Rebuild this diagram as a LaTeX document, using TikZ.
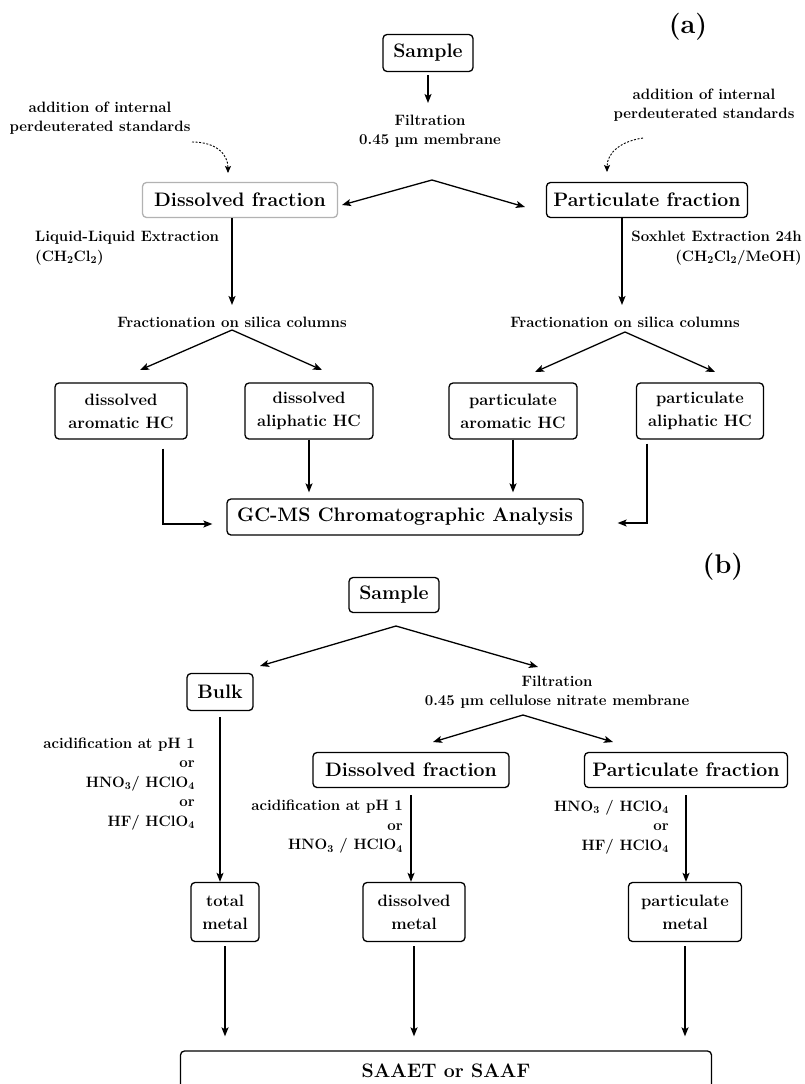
\documentclass[tikz,border=0pt]{standalone}
\usepackage{tikz}
\usetikzlibrary{arrows.meta}

\newcommand{\fbig}{\fontsize{19.5}{23}\selectfont\bfseries}
\newcommand{\fmid}{\fontsize{16.5}{23}\selectfont\bfseries}
\newcommand{\fsmall}{\fontsize{15}{19.5}\selectfont\bfseries}
\newcommand{\flabel}{\fontsize{27}{30}\selectfont\bfseries}

\begin{document}
\begin{tikzpicture}[x=1pt, y=-1pt, >={Stealth[length=9pt, width=7pt, inset=2pt]},
    box/.style={draw, line width=1.3pt, rounded corners=4pt, inner sep=2pt, align=center, font=\fbig},
    hcbox/.style={box, font=\fmid, minimum height=56pt},
    metbox/.style={box, font=\fmid, minimum height=59pt},
    note/.style={font=\fsmall, inner sep=0pt, align=center},
    flow/.style={->, line width=1.3pt},
    fork/.style={<->, line width=1.3pt},
    feed/.style={->, line width=0.9pt, dash pattern=on 2pt off 1.6pt, >={Stealth[length=7pt, width=6pt, inset=1.5pt]}}]
    \useasboundingbox (0,0) rectangle (804,1084);

    % ---------------- (a) hydrocarbons ----------------
    \node[font=\flabel] (labA) at (688,27) {(a)};
    \node[box, minimum width=90pt, minimum height=37pt] (sampleA) at (428,53) {Sample};
    \node[note] (filtA) at (430,131) {Filtration\\0.45 µm membrane};
    \coordinate (topA) at (428,103);
    \draw[flow, shorten <=3pt] (sampleA.south) -- (topA);

    % split into the two fractions
    \coordinate (forkA) at (432,180);
    \coordinate (tipA1) at (342,205);
    \coordinate (tipA2) at (525,207);
    \draw[fork] (tipA1) -- (forkA) -- (tipA2);
    \node[box, draw=gray!60, minimum width=195pt, minimum height=35pt] (dissA) at (240,200) {Dissolved fraction};
    \node[box, minimum width=201pt, minimum height=35pt] (partA) at (647,200) {Particulate fraction};

    % internal standards (dashed)
    \node[note] (addA1) at (100,118) {addition of internal\\perdeuterated standards};
    \coordinate (dotA1) at (192,142);
    \coordinate (tipA3) at (228,173);
    \draw[feed] (dotA1) .. controls (216,142) and (228,154) .. (tipA3);
    \node[note] (addA2) at (704,105) {addition of internal\\perdeuterated standards};
    \coordinate (dotA2) at (643,138);
    \coordinate (tipA4) at (607,172);
    \draw[feed] (dotA2) .. controls (622,141) and (607,152) .. (tipA4);

    % extraction
    \node[note, anchor=west, align=left] (llA) at (35,248) {Liquid-Liquid Extraction\\(CH\textsubscript{2}Cl\textsubscript{2})};
    \node[note, anchor=east, align=right] (soxA) at (802,248) {Soxhlet Extraction 24h\\(CH\textsubscript{2}Cl\textsubscript{2}/MeOH)};
    \node[note] (fracA1) at (232,322) {Fractionation on silica columns};
    \node[note] (fracA2) at (625,322) {Fractionation on silica columns};
    \coordinate (tipA5) at (232,305);
    \coordinate (tipA6) at (622,305);
    \draw[flow] (dissA.south -| tipA5) -- (tipA5);
    \draw[flow] (partA.south -| tipA6) -- (tipA6);

    % silica column forks
    \coordinate (forkA1) at (232,330);
    \coordinate (forkA2) at (625,332);
    \draw[fork] (140,370) -- (forkA1) -- (322,370);
    \draw[fork] (535,372) -- (forkA2) -- (715,372);

    % hydrocarbon classes
    \foreach \n/\x/\w/\txt in {daroA/121/132/{dissolved\\aromatic HC}, daliA/309/128/{dissolved\\aliphatic HC},
                               paroA/513/128/{particulate\\aromatic HC}, paliA/700/127/{particulate\\aliphatic HC}} {
        \node[hcbox, minimum width=\w pt] (\n) at (\x,411) {\txt};
    }
    \node[box, minimum width=356pt, minimum height=36pt] (gcms) at (405,517) {GC-MS Chromatographic Analysis};
    \draw[flow] ([xshift=42pt, yshift=-9pt]daroA.south) |- ([xshift=-14pt, yshift=-7pt]gcms.west);
    \draw[flow, shorten >=6pt] (daliA.south) -- (daliA.south |- gcms.north);
    \draw[flow, shorten >=6pt] (paroA.south) -- (paroA.south |- gcms.north);
    \draw[flow] ([xshift=-53pt, yshift=-4pt]paliA.south) |- ([xshift=34pt, yshift=-6pt]gcms.east);

    % ---------------- (b) metals ----------------
    \node[font=\flabel] (labB) at (723,567) {(b)};
    \node[box, minimum width=90pt, minimum height=35pt] (sampleB) at (394,595) {Sample};
    \coordinate (forkB1) at (396,626);
    \draw[fork] (260,666) -- (forkB1) -- (538,667);
    \node[box, minimum width=66pt, minimum height=37pt] (bulk) at (220,692) {Bulk};
    \node[note] (filtB) at (557,692) {Filtration\\0.45 µm cellulose nitrate membrane};
    \coordinate (forkB2) at (523,715);
    \draw[fork] (433,742) -- (forkB2) -- (613,742);
    \node[box, minimum width=196pt, minimum height=35pt] (dissB) at (411,770) {Dissolved fraction};
    \node[box, minimum width=203pt, minimum height=35pt] (partB) at (686,770) {Particulate fraction};

    % digestion
    \node[note, anchor=east, align=right] (acidB1) at (195,784) {acidification at pH 1\\or\\HNO\textsubscript{3}/ HClO\textsubscript{4}\\or\\HF/ HClO\textsubscript{4}};
    \node[note, anchor=east, align=right] (acidB2) at (403,827) {acidification at pH 1\\or\\HNO\textsubscript{3} / HClO\textsubscript{4}};
    \node[note, anchor=east, align=right] (acidB3) at (669,827) {HNO\textsubscript{3} / HClO\textsubscript{4}\\or\\HF/ HClO\textsubscript{4}};

    % metal fractions
    \foreach \n/\x/\w/\txt in {totm/225/68/{total\\metal}, dism/414/102/{dissolved\\metal}, parm/685/113/{particulate\\metal}} {
        \node[metbox, minimum width=\w pt] (\n) at (\x,912) {\txt};
    }
    \draw[flow, shorten <=6pt] (bulk.south) -- (bulk.south |- totm.north);
    \draw[flow, shorten <=7pt] (dissB.south) -- (dissB.south |- dism.north);
    \draw[flow, shorten <=7pt] (partB.south) -- (partB.south |- parm.north);

    % final analysis box runs off the page bottom
    \node[box, minimum width=531pt, minimum height=40pt] (saaet) at (446,1071) {SAAET or SAAF};
    \foreach \n in {totm, dism, parm} {
        \draw[flow, shorten <=4pt, shorten >=14pt] (\n.south) -- (\n.south |- saaet.north);
    }
\end{tikzpicture}
\end{document}
